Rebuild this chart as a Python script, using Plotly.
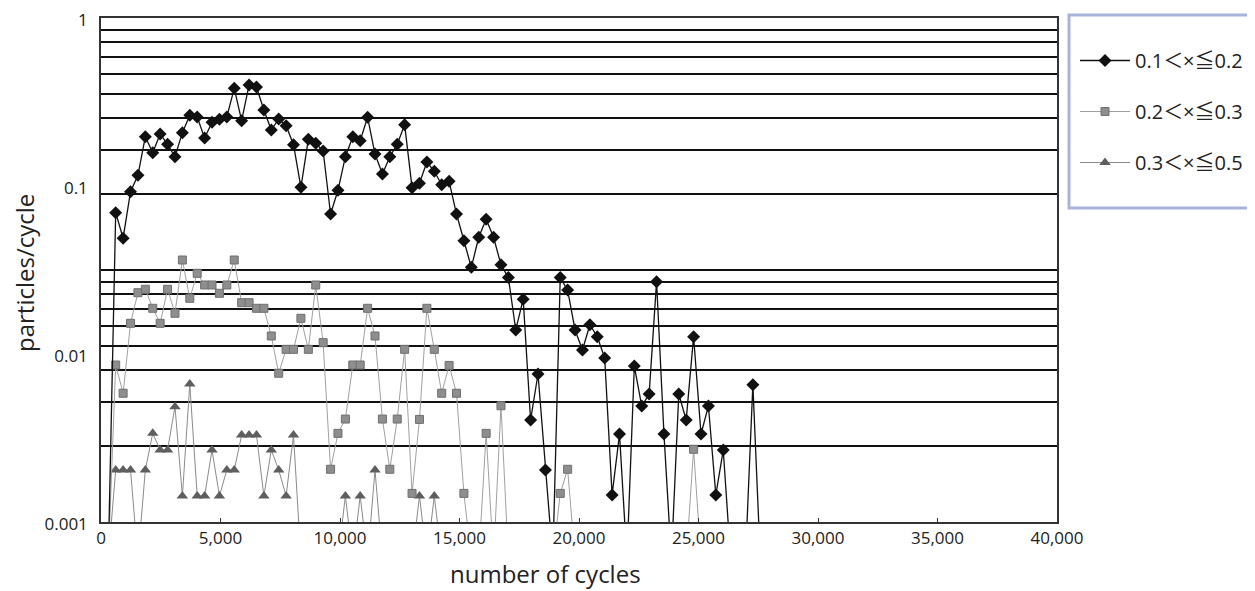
import math
import plotly.graph_objects as go

# ---------------- data ----------------
cycles = [305, 615, 925, 1235, 1545, 1855, 2165, 2475, 2785, 3095,
          3405, 3715, 4025, 4335, 4645, 4955, 5265, 5575, 5885, 6195,
          6505, 6815, 7125, 7435, 7745, 8055, 8365, 8675, 8985, 9295,
          9605, 9915, 10225, 10535, 10845, 11155, 11465, 11775, 12085, 12395,
          12705, 13015, 13325, 13635, 13945, 14255, 14565, 14875, 15185, 15495,
          15805, 16115, 16425, 16735, 17045, 17355, 17665, 17975, 18285, 18595,
          18905, 19215, 19525, 19835, 20145, 20455, 20765, 21075, 21385, 21695,
          22005, 22315, 22625, 22935, 23245, 23555, 23865, 24175, 24485, 24795,
          25105, 25415, 25725, 26035, 26345, 26655, 26965, 27275, 27585]

s1_name = "0.1＜×≦0.2"
s1 = [0, 0.0694, 0.0489, 0.0925, 0.1158, 0.1965, 0.1578, 0.2040, 0.1771, 0.1494,
      0.2077, 0.2635, 0.2575, 0.1930, 0.2394, 0.2495, 0.2575, 0.3815, 0.2447, 0.3993,
      0.3885, 0.2835, 0.2154, 0.2505, 0.2285, 0.1761, 0.0982, 0.1897, 0.1795, 0.1615,
      0.0681, 0.0943, 0.1494, 0.1965, 0.1861, 0.2564, 0.1550, 0.1179, 0.1494, 0.1771,
      0.2317, 0.0977, 0.1038, 0.1389, 0.1224, 0.1018, 0.1066, 0.0681, 0.0472, 0.0328,
      0.0495, 0.0633, 0.0495, 0.0340, 0.0285, 0.0139, 0.0212, 0.00405, 0.00760, 0.00204,
      0, 0.0285, 0.0240, 0.0139, 0.01056, 0.01494, 0.01268, 0.00947, 0.00145, 0.00334,
      0, 0.00848, 0.00490, 0.00578, 0.0269, 0.00334, 0, 0.00578, 0.00405, 0.01268,
      0.00334, 0.00490, 0.00145, 0.00268, 0, 0, 0, 0.00657, 0]

s2_name = "0.2＜×≦0.3"
s2 = [0, 0.00860, 0.00584, 0.01523, 0.02317, 0.02427, 0.01871, 0.01523, 0.02427, 0.01747,
      0.03627, 0.02146, 0.03022, 0.02575, 0.02575, 0.02298, 0.02575, 0.03627, 0.02020, 0.02020,
      0.01871, 0.01871, 0.01280, 0.00768, 0.01066, 0.01066, 0.01631, 0.01066, 0.02575, 0.01168,
      0.00206, 0.00337, 0.00410, 0.00860, 0.00860, 0.01871, 0.01280, 0.00410, 0.00206, 0.00410,
      0.01066, 0.00148, 0.00408, 0.01871, 0.01066, 0.00584, 0.00855, 0.00584, 0.00148, 0,
      0, 0.00337, 0, 0.00492, 0, 0, 0, 0, 0, 0,
      0, 0.00148, 0.00206, 0, 0, 0, 0, 0, 0, 0,
      0, 0, 0, 0, 0, 0, 0, 0, 0, 0.00271,
      0, 0, 0, 0, 0, 0, 0, 0, 0]

s3_name = "0.3＜×≦0.5"
s3 = [0, 0.00204, 0.00204, 0.00204, 0, 0.00204, 0.00337, 0.00268, 0.00268, 0.00486,
      0.00143, 0.00663, 0.00143, 0.00143, 0.00268, 0.00143, 0.00204, 0.00204, 0.00329, 0.00329,
      0.00329, 0.00143, 0.00268, 0.00204, 0.00143, 0.00329, 0, 0, 0, 0,
      0, 0, 0.00143, 0, 0.00143, 0, 0.00204, 0, 0, 0,
      0, 0, 0.00143, 0, 0.00143, 0, 0, 0, 0, 0,
      0, 0, 0, 0, 0, 0, 0, 0, 0, 0,
      0, 0, 0, 0, 0, 0, 0, 0, 0, 0,
      0, 0, 0, 0, 0, 0, 0, 0, 0, 0,
      0, 0, 0, 0, 0, 0, 0, 0, 0]

x_ticks = [0, 5000, 10000, 15000, 20000, 25000, 30000, 35000, 40000]
y_ticks = [0.001, 0.01, 0.1, 1]
y_ticktext = ["0.001", "0.01", "0.1", "1"]
x_title = "number of cycles"
y_title = "particles/cycle"

assert len(cycles) == len(s1) == len(s2) == len(s3)

# zero counts cannot sit on a log axis: show them below the axis floor (clipped)
ZERO_FLOOR = 0.0006


def for_log(vals):
    return [v if v > 0 else ZERO_FLOOR for v in vals]


# horizontal gridlines of the original (minor-style lines)
grid_vals = ([10 ** (-3 + 1.5 * math.log10(k)) for k in range(2, 11)] +
             [10 ** (-1.5 + 1.5 * math.log10(k)) for k in range(2, 11)])

FONT = "Open Sans, Noto Sans CJK JP, sans-serif"

fig = go.Figure()
fig.add_trace(go.Scatter(
    x=cycles, y=for_log(s3), name=s3_name, mode="lines+markers",
    legendgroup="c", legendrank=3,
    line=dict(color="#8a8a8a", width=1),
    marker=dict(symbol="triangle-up", size=10, color="#5e5e5e"),
))
fig.add_trace(go.Scatter(
    x=cycles, y=for_log(s2), name=s2_name, mode="lines+markers",
    legendgroup="b", legendrank=2,
    line=dict(color="#a0a0a0", width=1),
    marker=dict(symbol="square", size=8, color="#8e8e8e",
                line=dict(color="#6f6f6f", width=1)),
))
fig.add_trace(go.Scatter(
    x=cycles, y=for_log(s1), name=s1_name, mode="lines+markers",
    legendgroup="a", legendrank=1,
    line=dict(color="#111111", width=1.3),
    marker=dict(symbol="diamond", size=10, color="#111111"),
))

# page body adds an 8px offset; figure coordinates below are page px - 8
OFF = 8
W, H = 1247, 583
L, T = 101 - OFF, 18 - OFF
R = W - (1057 - OFF)
B = H - (522 - OFF)
pw, ph = W - L - R, H - T - B


def px_x(p):
    return (p - OFF - L) / pw


def px_y(p):
    return ((522 - OFF) - (p - OFF)) / ph


fig.update_layout(
    width=W, height=H,
    margin=dict(l=L, r=R, t=T, b=B, autoexpand=False),
    paper_bgcolor="white", plot_bgcolor="white",
    font=dict(family=FONT, size=17, color="#222222"),
    showlegend=True,
    legend=dict(
        x=px_x(1075), y=px_y(41),
        xanchor="left", yanchor="top",
        bgcolor="rgba(0,0,0,0)", borderwidth=0,
        font=dict(family=FONT, size=20, color="#222222"),
        traceorder="grouped", tracegroupgap=22, itemwidth=50,
    ),
    shapes=[dict(
        type="rect", xref="paper", yref="paper",
        x0=px_x(1069), x1=px_x(1251),
        y0=px_y(208), y1=px_y(15),
        line=dict(color="#a9b3da", width=3), fillcolor="rgba(0,0,0,0)",
    )],
    annotations=[
        dict(text=x_title, xref="paper", yref="paper",
             x=px_x(545), y=px_y(573), xanchor="center", yanchor="middle",
             showarrow=False, font=dict(family=FONT, size=24, color="#222222")),
        dict(text=y_title, xref="paper", yref="paper", textangle=-90,
             x=px_x(24), y=px_y(273), xanchor="center", yanchor="middle",
             showarrow=False, font=dict(family=FONT, size=24, color="#222222")),
    ],
)

fig.update_xaxes(
    range=[0, 40000], tickvals=x_ticks, tickformat=",d",
    showgrid=False, zeroline=False, automargin=False,
    showline=True, linecolor="#333333", linewidth=1.5, mirror=True,
    ticks="inside", ticklen=4, tickcolor="#333333",
    ticklabeloverflow="allow",
    tickfont=dict(size=17, color="#222222"),
)
fig.update_yaxes(
    type="log", range=[-3, 0], automargin=False,
    tickmode="array", tickvals=y_ticks, ticktext=y_ticktext,
    showgrid=False, zeroline=False,
    showline=True, linecolor="#333333", linewidth=1.5, mirror=True,
    ticks="", ticklabelstandoff=8, ticklabelshift=2, ticklabeloverflow="allow",
    tickfont=dict(size=17, color="#222222"),
    minor=dict(tickmode="array", tickvals=grid_vals, showgrid=True,
               gridcolor="#111111", gridwidth=1.5, ticks=""),
)

fig.write_html("out.html")
